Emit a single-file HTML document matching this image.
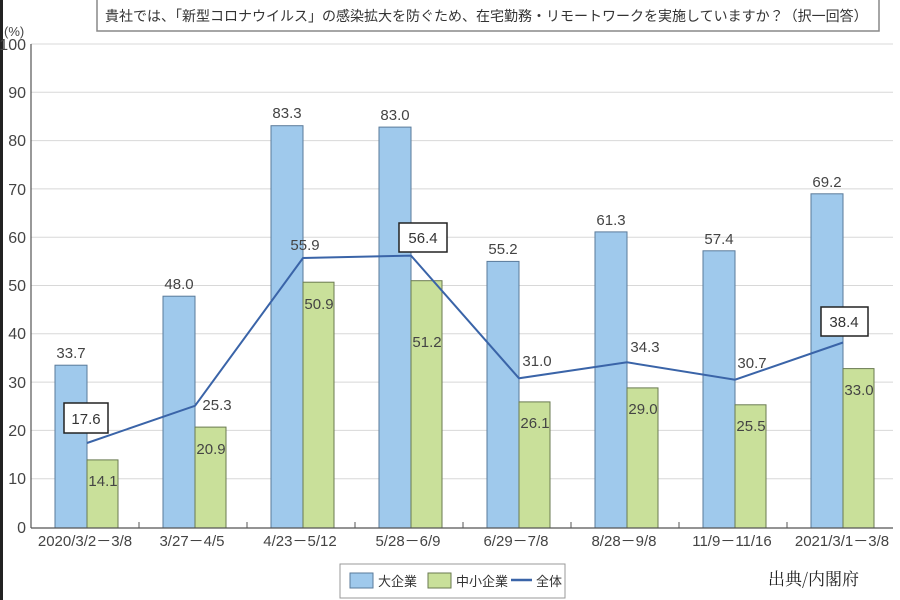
<!DOCTYPE html>
<html><head><meta charset="utf-8"><style>
body{margin:0;background:#fff}
svg{display:block;font-family:"Liberation Sans","Noto Sans CJK JP",sans-serif}
</style></head><body>
<svg width="900" height="600" viewBox="0 0 900 600">
<rect x="0" y="0" width="3" height="600" fill="#222"/>
<rect x="97" y="-2" width="782" height="33" fill="#fff" stroke="#888" stroke-width="1.5"/>
<text x="105" y="21" font-size="14" fill="#333">貴社では、「新型コロナウイルス」の感染拡大を防ぐため、在宅勤務・リモートワークを実施していますか？（択一回答）</text>
<g stroke="#d8d8d8" stroke-width="1">
<line x1="31" x2="893" y1="44" y2="44"/><line x1="31" x2="893" y1="92.3" y2="92.3"/>
<line x1="31" x2="893" y1="140.6" y2="140.6"/><line x1="31" x2="893" y1="188.9" y2="188.9"/>
<line x1="31" x2="893" y1="237.2" y2="237.2"/><line x1="31" x2="893" y1="285.5" y2="285.5"/>
<line x1="31" x2="893" y1="333.8" y2="333.8"/><line x1="31" x2="893" y1="382.1" y2="382.1"/>
<line x1="31" x2="893" y1="430.4" y2="430.4"/><line x1="31" x2="893" y1="478.7" y2="478.7"/>
</g>
<g font-size="16" fill="#444" text-anchor="end">
<text x="26" y="50">100</text><text x="26" y="98">90</text><text x="26" y="146">80</text>
<text x="26" y="195">70</text><text x="26" y="243">60</text><text x="26" y="291">50</text>
<text x="26" y="339">40</text><text x="26" y="388">30</text><text x="26" y="436">20</text>
<text x="26" y="484">10</text><text x="26" y="533">0</text>
</g>
<text x="4" y="36" font-size="13" fill="#444">(%)</text>
<g fill="#9fc9ec" stroke="#5a7a9a" stroke-width="1">
<rect x="55" y="365.2" width="32" height="162.8"/><rect x="163" y="296.2" width="32" height="231.8"/>
<rect x="271" y="125.7" width="32" height="402.3"/><rect x="379" y="127.1" width="32" height="400.9"/>
<rect x="487" y="261.4" width="32" height="266.6"/><rect x="595" y="231.9" width="32" height="296.1"/>
<rect x="703" y="250.8" width="32" height="277.2"/><rect x="811" y="193.8" width="32" height="334.2"/>
</g>
<g fill="#c9e09a" stroke="#6a7a50" stroke-width="1">
<rect x="87" y="459.9" width="31" height="68.1"/><rect x="195" y="427.1" width="31" height="100.9"/>
<rect x="303" y="282.2" width="31" height="245.8"/><rect x="411" y="280.7" width="31" height="247.3"/>
<rect x="519" y="401.9" width="31" height="126.1"/><rect x="627" y="387.9" width="31" height="140.1"/>
<rect x="735" y="404.8" width="31" height="123.2"/><rect x="843" y="368.6" width="31" height="159.4"/>
</g>
<line x1="31" y1="44" x2="31" y2="528" stroke="#555" stroke-width="1.2"/>
<line x1="31" y1="528" x2="893" y2="528" stroke="#555" stroke-width="1.2"/>
<g stroke="#555"><line x1="139" x2="139" y1="522" y2="528"/><line x1="247" x2="247" y1="522" y2="528"/><line x1="355" x2="355" y1="522" y2="528"/><line x1="463" x2="463" y1="522" y2="528"/><line x1="571" x2="571" y1="522" y2="528"/><line x1="679" x2="679" y1="522" y2="528"/><line x1="787" x2="787" y1="522" y2="528"/></g>
<polyline points="87,443 195,405.8 303,258 411,255.6 519,378.3 627,362.3 735,379.7 843,342.5" fill="none" stroke="#3a64a8" stroke-width="2"/>
<g font-size="15" fill="#444" text-anchor="middle">
<text x="71" y="358">33.7</text><text x="179" y="289">48.0</text><text x="287" y="118">83.3</text>
<text x="395" y="120">83.0</text><text x="503" y="254">55.2</text><text x="611" y="225">61.3</text>
<text x="719" y="244">57.4</text><text x="827" y="187">69.2</text>
<text x="103" y="486">14.1</text><text x="211" y="454">20.9</text><text x="319" y="309">50.9</text>
<text x="427" y="347">51.2</text><text x="535" y="428">26.1</text><text x="643" y="414">29.0</text>
<text x="751" y="431">25.5</text><text x="859" y="395">33.0</text>
<text x="217" y="410">25.3</text><text x="305" y="250">55.9</text><text x="537" y="366">31.0</text>
<text x="645" y="352">34.3</text><text x="752" y="368">30.7</text>
</g>
<g fill="#fff" stroke="#222" stroke-width="1.5">
<rect x="64" y="403" width="44" height="30"/><rect x="399" y="223" width="48" height="29"/><rect x="821" y="307" width="47" height="29"/>
</g>
<g font-size="15" fill="#333" text-anchor="middle">
<text x="86" y="424">17.6</text><text x="423" y="243">56.4</text><text x="844" y="327">38.4</text>
</g>
<g font-size="15" fill="#444" text-anchor="middle">
<text x="85" y="546">2020/3/2－3/8</text><text x="192" y="546">3/27－4/5</text>
<text x="300" y="546">4/23－5/12</text><text x="408" y="546">5/28－6/9</text>
<text x="516" y="546">6/29－7/8</text><text x="624" y="546">8/28－9/8</text>
<text x="732" y="546">11/9－11/16</text><text x="842" y="546">2021/3/1－3/8</text>
</g>
<rect x="340" y="564" width="225" height="34" fill="#fff" stroke="#999"/>
<rect x="350" y="573" width="23" height="15" fill="#9fc9ec" stroke="#5a7a9a"/>
<text x="378" y="586" font-size="13" fill="#333">大企業</text>
<rect x="428" y="573" width="23" height="15" fill="#c9e09a" stroke="#6a7a50"/>
<text x="456" y="586" font-size="13" fill="#333">中小企業</text>
<line x1="511" x2="532" y1="580" y2="580" stroke="#3a64a8" stroke-width="2.5"/>
<text x="536" y="586" font-size="13" fill="#333">全体</text>
<text x="768" y="585" font-size="17" fill="#222" font-family="'Noto Serif CJK SC',serif">出典/内閣府</text>
</svg>
</body></html>
